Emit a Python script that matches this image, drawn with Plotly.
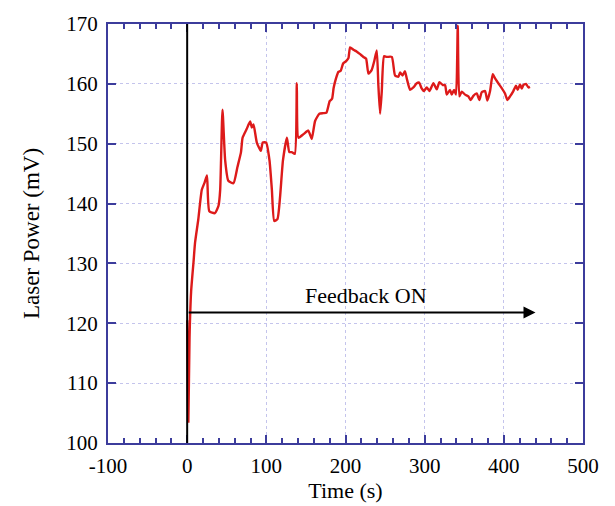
import plotly.graph_objects as go

time_s = [0, 1.5, 3, 5, 8, 10, 14, 18.5, 22, 25, 28, 35, 39.5, 41.7, 44.6, 48, 52, 58.5,
          63.5, 68, 70, 75, 79.5, 81.7, 83.8, 88, 93, 95.5, 99.7, 104, 107, 110, 114,
          117.4, 121, 126, 129, 132, 136, 138.5, 140.6, 147, 153, 155, 157.4, 161.6, 167,
          172, 176, 180, 183, 185, 188, 191, 194, 197, 200.8, 203.7, 205.8, 210, 214, 218,
          222.6, 226, 229, 233, 236.5, 239.5, 241.5, 243.7, 245.8, 248.7, 252, 258.5,
          262.6, 266.8, 269, 272, 275, 277.4, 281.6, 285.7, 290, 293, 296, 299, 302.6,
          306, 311, 315.3, 318.6, 322.9, 325.8, 327.9, 332, 334.2, 337.1, 339.6, 341.8,
          343.8, 346.8, 351, 355.2, 358.2, 361.5, 365.8, 369, 372.1, 376.3, 379.2, 382.6,
          386, 388.9, 393, 397.3, 401.5, 404.4, 407.8, 412, 415.4, 417.5, 420.5, 422.6,
          424.6, 428, 431, 433]
power_mv = [120.5, 103.6, 117.6, 125.3, 130.2, 133.5, 137.3, 142.3, 143.5, 144.7, 138.7,
            138.4, 139.6, 142.3, 155.7, 147.2, 143.8, 143.4, 146.1, 148.6, 151.0, 152.4,
            153.7, 152.7, 153.2, 150.2, 148.8, 150.2, 150.2, 147.2, 142.3, 137.1, 137.4,
            141.2, 147.2, 151.0, 148.6, 148.6, 148.3, 160.1, 151.0, 151.6, 152.2, 151.6,
            150.8, 153.8, 155.0, 155.1, 155.2, 157.1, 157.5, 159.3, 160.9, 162.0, 162.2,
            163.4, 163.8, 164.3, 166.1, 165.7, 165.4, 165.0, 164.5, 164.2, 161.7, 162.3,
            163.9, 165.6, 159.8, 155.0, 158.7, 164.6, 164.5, 164.5, 161.4, 161.2, 161.9,
            161.4, 162.1, 160.9, 159.0, 159.4, 160.1, 160.2, 159.3, 158.8, 159.4, 158.8,
            160.1, 159.1, 160.3, 159.8, 159.8, 158.2, 159.0, 158.2, 159.0, 158.2, 169.7,
            157.9, 158.7, 158.2, 157.9, 157.3, 158.0, 158.4, 157.3, 158.6, 158.8, 157.2,
            158.8, 161.6, 160.9, 160.1, 159.3, 158.4, 157.3, 157.9, 158.8, 159.7, 159.0,
            159.9, 159.2, 159.8, 160.0, 159.4, 159.5]

x_ticks = [-100, 0, 100, 200, 300, 400, 500]
x_tick_labels = ["-100", "0", "100", "200", "300", "400", "500"]
y_ticks = [100, 110, 120, 130, 140, 150, 160, 170]
arrow_y = 121.8
arrow_end_x = 440
label_text = "Feedback ON"

FONT = "Liberation Serif"
AX = "#3c3c9c"
GRID = "#c4c4ec"

fig = go.Figure()
fig.add_trace(go.Scatter(x=time_s, y=power_mv, mode="lines",
                         line=dict(color="#dd1a1a", width=2.4, shape="spline",
                                   smoothing=0.5),
                         showlegend=False))

fig.add_shape(type="line", x0=0, x1=0, y0=100, y1=170, xref="x", yref="y",
              line=dict(color="black", width=2))
fig.add_annotation(x=arrow_end_x, y=arrow_y, ax=0, ay=arrow_y, xref="x", yref="y",
                   axref="x", ayref="y", showarrow=True, arrowhead=2, arrowsize=1.2,
                   arrowwidth=2, arrowcolor="black", text="")
fig.add_annotation(x=226, y=124.6, xref="x", yref="y", text=label_text, showarrow=False,
                   font=dict(family=FONT, size=22, color="black"))

fig.update_layout(
    width=615, height=506,
    margin=dict(l=108, r=32, t=18, b=63),
    paper_bgcolor="white", plot_bgcolor="white",
    font=dict(family=FONT, size=20, color="black"),
    xaxis=dict(range=[-100, 500], tickvals=x_ticks, ticktext=x_tick_labels,
               ticks="inside", ticklen=8,
               tickwidth=2, tickcolor=AX, showline=True, linecolor=AX, linewidth=2,
               mirror="ticks", showgrid=True, gridcolor=GRID, griddash="dot",
               gridwidth=1, zeroline=False, ticklabelstandoff=3,
               minor=dict(dtick=20, ticks="inside", ticklen=5, tickwidth=2,
                          tickcolor=AX, showgrid=False),
               title=dict(text="Time (s)", font=dict(family=FONT, size=22), standoff=0),
               tickfont=dict(family=FONT, size=21)),
    yaxis=dict(range=[100, 170], tickvals=y_ticks, ticks="inside", ticklen=8,
               tickwidth=2, tickcolor=AX, showline=True, linecolor=AX, linewidth=2,
               mirror="ticks", showgrid=True, gridcolor=GRID, griddash="dot",
               gridwidth=1, zeroline=False, ticklabelstandoff=4,
               title=dict(text="Laser Power (mV)", font=dict(family=FONT, size=23),
                          standoff=20),
               tickfont=dict(family=FONT, size=21)),
)

fig.write_html("out.html")
